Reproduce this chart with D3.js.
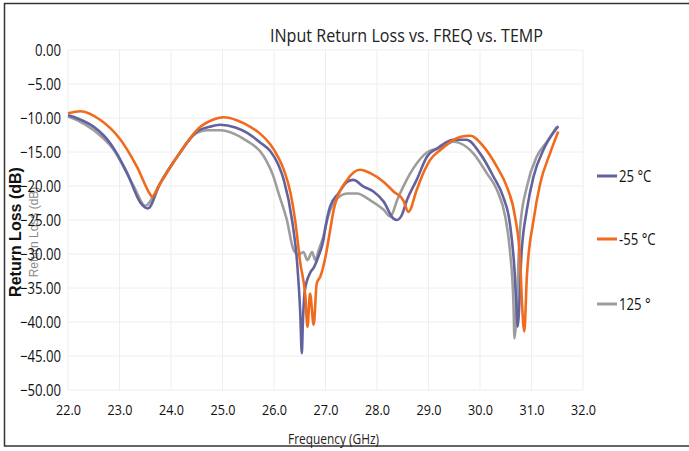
<!DOCTYPE html>
<html>
<head>
<meta charset="utf-8">
<script src="https://cdn.jsdelivr.net/npm/d3@7"></script>
<style>
  body { margin: 0; background: #fff; }
  svg { display: block; }
</style>
</head>
<body>
<div id="chart"></div>
<script>
// --- data (frequency in GHz, return loss in dB)
var seriesNames = ["25 \u00B0C", "-55 \u00B0C", "125 \u00B0"];

var freq25 = [22.0, 22.2, 22.5, 22.82, 23.15, 23.41, 23.55, 23.79, 24.12, 24.5, 24.75, 24.96, 25.25, 25.48, 25.73, 25.93, 26.08, 26.19, 26.35, 26.45, 26.51, 26.54, 26.56, 26.6, 26.7, 26.78, 26.86, 26.96, 27.0, 27.09, 27.25, 27.42, 27.54, 27.74, 27.93, 28.13, 28.32, 28.39, 28.48, 28.58, 28.77, 28.97, 29.2, 29.48, 29.74, 30.0, 30.26, 30.45, 30.58, 30.67, 30.71, 30.73, 30.81, 30.91, 31.04, 31.23, 31.49, 31.52];
var rl25   = [-9.6, -10.1, -11.3, -13.7, -18.1, -22.5, -23.3, -19.6, -15.7, -12.0, -11.3, -11.0, -11.4, -12.2, -13.6, -14.9, -16.8, -19.1, -25.0, -31.4, -38.7, -44.6, -40.2, -35.3, -32.8, -31.9, -30.4, -27.9, -26.0, -23.0, -21.1, -19.4, -19.1, -20.1, -20.8, -22.3, -24.8, -25.0, -24.3, -22.1, -19.1, -15.7, -14.3, -13.2, -13.2, -15.2, -18.6, -21.6, -25.5, -32.4, -38.2, -40.7, -29.4, -23.5, -18.6, -14.7, -11.5, -11.2];

var freqM55 = [22.0, 22.24, 22.63, 23.02, 23.34, 23.6, 23.63, 23.8, 24.12, 24.57, 24.8, 25.02, 25.3, 25.54, 25.73, 25.93, 26.07, 26.19, 26.32, 26.41, 26.51, 26.61, 26.65, 26.7, 26.77, 26.83, 26.9, 27.0, 27.09, 27.16, 27.42, 27.67, 27.87, 28.13, 28.32, 28.51, 28.61, 28.77, 28.9, 29.03, 29.23, 29.61, 29.81, 30.07, 30.33, 30.52, 30.68, 30.78, 30.81, 30.86, 30.91, 31.04, 31.17, 31.36, 31.52];
var rlM55   = [-9.3, -9.0, -10.3, -13.2, -17.2, -21.3, -21.6, -19.5, -15.7, -11.3, -10.3, -9.9, -10.4, -11.3, -12.3, -13.9, -15.6, -17.6, -21.0, -25.0, -31.3, -36.3, -40.7, -35.8, -40.4, -34.3, -33.3, -30.4, -26.5, -23.5, -19.1, -17.6, -18.1, -19.4, -20.8, -22.1, -23.8, -20.6, -18.1, -16.2, -14.7, -12.8, -12.6, -14.2, -17.2, -20.1, -24.5, -30.9, -36.3, -41.4, -33.3, -25.0, -19.6, -15.2, -12.0];

var freq125 = [22.0, 22.2, 22.5, 22.89, 23.28, 23.5, 23.79, 24.12, 24.5, 24.7, 24.96, 25.25, 25.48, 25.73, 25.86, 25.98, 26.09, 26.25, 26.38, 26.48, 26.57, 26.65, 26.74, 26.8, 26.87, 26.96, 27.05, 27.2, 27.42, 27.61, 27.87, 28.13, 28.26, 28.39, 28.51, 28.77, 29.03, 29.23, 29.48, 29.61, 29.87, 30.13, 30.33, 30.49, 30.58, 30.65, 30.67, 30.78, 30.91, 31.1, 31.3, 31.49];
var rl125   = [-9.8, -10.4, -11.8, -14.7, -20.1, -22.9, -19.6, -15.7, -12.2, -11.8, -11.8, -12.4, -13.4, -14.9, -16.4, -18.4, -21.1, -25.0, -29.4, -30.1, -29.7, -30.9, -29.7, -30.9, -29.4, -27.4, -24.5, -22.1, -21.1, -21.1, -22.1, -23.5, -24.5, -22.1, -20.1, -16.7, -14.8, -14.5, -13.5, -13.7, -15.2, -18.1, -20.6, -24.5, -29.4, -37.3, -42.4, -26.0, -20.1, -15.7, -13.5, -11.3];

var xTicks = [22, 23, 24, 25, 26, 27, 28, 29, 30, 31, 32];
var yTicks = [0, -5, -10, -15, -20, -25, -30, -35, -40, -45, -50];

// --- layout
var W = 689, H = 451;
var plot = {left: 68, right: 583, top: 50, bottom: 390};
var colors = ["#62629f", "#f26b1d", "#9d9d9d"];
var font = "'Open Sans', 'DejaVu Sans', sans-serif";

var svg = d3.select("#chart").append("svg")
  .attr("width", W)
  .attr("height", H);

svg.append("rect").attr("width", W).attr("height", H).attr("fill", "#fff");

var x = d3.scaleLinear().domain([22, 32]).range([plot.left, plot.right]);
var y = d3.scaleLinear().domain([-50, 0]).range([plot.bottom, plot.top]);

// squeeze text horizontally, the source font is a condensed one
function condense(sel, k) {
  sel.each(function () {
    var w = this.getComputedTextLength();
    d3.select(this).attr("textLength", w * k).attr("lengthAdjust", "spacingAndGlyphs");
  });
}

// -- grid
var grid = svg.append("g").attr("class", "grid");
grid.selectAll(".vg").data(xTicks).enter().append("line")
  .attr("x1", function (d) { return x(d); })
  .attr("x2", function (d) { return x(d); })
  .attr("y1", plot.top)
  .attr("y2", plot.bottom)
  .attr("stroke", "#eeeeee")
  .attr("stroke-width", 1);
grid.selectAll(".hg").data(yTicks).enter().append("line")
  .attr("x1", plot.left)
  .attr("x2", plot.right)
  .attr("y1", function (d) { return y(d); })
  .attr("y2", function (d) { return y(d); })
  .attr("stroke", "#eeeeee")
  .attr("stroke-width", 1);

// -- ghost axis title (sits behind the tick labels)
svg.append("text")
  .attr("transform", "translate(38," + 232 + ") rotate(-90)")
  .attr("text-anchor", "middle")
  .attr("font-family", "'Liberation Sans', Arial, sans-serif")
  .attr("font-size", 12)
  .attr("fill", "#8a8a8a")
  .text("Return Loss (dB)");

// -- axes
var yAxis = svg.append("g")
  .attr("transform", "translate(" + (plot.left - 4) + ",0)")
  .call(d3.axisLeft(y).tickValues(yTicks).tickSize(0).tickFormat(d3.format(".2f")));
yAxis.select(".domain").remove();
yAxis.selectAll("text")
  .attr("font-family", font)
  .attr("font-size", 16)
  .attr("fill", "#111")
  .attr("dy", "0.32em")
  .call(condense, 0.82);

var xAxis = svg.append("g")
  .attr("transform", "translate(0," + (plot.bottom + 11) + ")")
  .call(d3.axisBottom(x).tickValues(xTicks).tickSize(0).tickFormat(d3.format(".1f")));
xAxis.select(".domain").remove();
xAxis.selectAll("text")
  .attr("font-family", font)
  .attr("font-size", 15)
  .attr("fill", "#111")
  .call(condense, 0.84);

// -- curves
var seriesData = [
  d3.zip(freq25, rl25),
  d3.zip(freqM55, rlM55),
  d3.zip(freq125, rl125)
];

var line = d3.line()
  .curve(d3.curveMonotoneX)
  .x(function (d) { return x(d[0]); })
  .y(function (d) { return y(d[1]); });

// draw gray first, then purple, then orange on top
[2, 0, 1].forEach(function (i) {
  svg.append("path")
    .datum(seriesData[i])
    .attr("d", line)
    .attr("fill", "none")
    .attr("stroke", colors[i])
    .attr("stroke-width", 2.6)
    .attr("stroke-linejoin", "round");
});

// -- legend
var legendY = [176, 239, 304];
var legend = svg.append("g").selectAll("g").data(seriesNames).enter().append("g")
  .attr("transform", function (d, i) { return "translate(597," + legendY[i] + ")"; });
legend.append("line")
  .attr("x1", 0).attr("x2", 20)
  .attr("stroke", function (d, i) { return colors[i]; })
  .attr("stroke-width", 3);
legend.append("text")
  .attr("x", 22)
  .attr("dy", "0.36em")
  .attr("font-family", font)
  .attr("font-size", 16)
  .attr("fill", "#111")
  .text(function (d) { return d; })
  .call(condense, 0.82);

// -- title
svg.append("text")
  .attr("x", 270)
  .attr("y", 42)
  .attr("font-family", font)
  .attr("font-size", 19)
  .attr("fill", "#222")
  .attr("textLength", 273)
  .attr("lengthAdjust", "spacingAndGlyphs")
  .text("INput Return Loss vs. FREQ vs. TEMP");

// -- bold axis title
svg.append("text")
  .attr("transform", "translate(21,232) rotate(-90)")
  .attr("text-anchor", "middle")
  .attr("font-family", "'Liberation Sans', Arial, sans-serif")
  .attr("font-size", 16)
  .attr("font-weight", "bold")
  .attr("fill", "#111")
  .text("Return Loss (dB)");

// -- frame
svg.append("path")
  .attr("d", "M689,3.5H4.5V446H689")
  .attr("fill", "none")
  .attr("stroke", "#333")
  .attr("stroke-width", 1.5);

// -- x axis title over the frame
svg.append("text")
  .attr("x", 288)
  .attr("y", 444)
  .attr("font-family", font)
  .attr("font-size", 14)
  .attr("fill", "#222")
  .text("Frequency (GHz)")
  .call(condense, 0.85);
</script>
</body>
</html>
